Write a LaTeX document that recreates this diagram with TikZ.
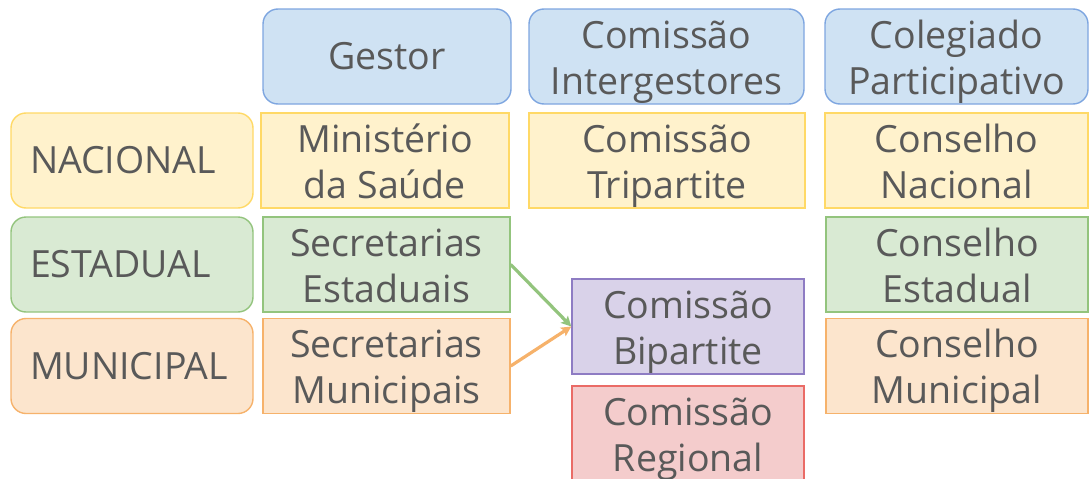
\documentclass[tikz,border=0pt]{standalone}
\usepackage{fontspec}
\setmainfont{Open Sans}
\usepackage{tikz}
\usetikzlibrary{arrows.meta}
\definecolor{texto}{HTML}{595959}
\definecolor{azulF}{HTML}{CFE2F3}
\definecolor{azulB}{HTML}{7EA6E0}
\definecolor{amareloF}{HTML}{FFF2CC}
\definecolor{amareloB}{HTML}{FFD966}
\definecolor{verdeF}{HTML}{D9EAD3}
\definecolor{verdeB}{HTML}{93C47D}
\definecolor{laranjaF}{HTML}{FCE5CD}
\definecolor{laranjaB}{HTML}{F6B26B}
\definecolor{roxoF}{HTML}{D9D2E9}
\definecolor{roxoB}{HTML}{8E7CC3}
\definecolor{vermelhoF}{HTML}{F4CCCC}
\definecolor{vermelhoB}{HTML}{EA6B66}
\tikzset{
  caixa/.style={draw,line width=1.4pt,minimum height=95pt,inner sep=0pt,align=center,
    text=texto,font=\fontsize{37.5}{46}\selectfont},
  duas/.style={caixa,text height=75pt,text depth=0pt},
  cabec/.style={rounded corners=15pt,fill=azulF,draw=azulB},
  nivel/.style={caixa,rounded corners=15pt,text width=204pt,align=left,inner xsep=19pt},
  nac/.style={fill=amareloF,draw=amareloB},
  est/.style={fill=verdeF,draw=verdeB},
  mun/.style={fill=laranjaF,draw=laranjaB},
  seta/.style={line width=3.2pt,-{Stealth[length=10pt,width=10pt,inset=2pt]}}
}

\begin{document}
\begin{tikzpicture}[x=1pt,y=-1pt]
    \useasboundingbox (0,0) rectangle (1090,479);
    \clip (0,0) rectangle (1090,479);
    % cabecalho
    \node (gestor) at (387,56.5) [caixa,cabec,minimum width=248pt]{Gestor};
    \node (intergest) at (666.5,56.5) [duas,cabec,minimum width=275pt]{Comissão\\Intergestores};
    \node (colegiado) at (956.5,56.5) [duas,cabec,minimum width=263pt]{Colegiado\\Participativo};
    %% niveis
    \node (nacional) at (132,160.5) [nivel,nac]{NACIONAL};
    \node (estadual) at (132,264.5) [nivel,est]{ESTADUAL};
    \node (municipal) at (132,366) [nivel,mun]{MUNICIPAL};
    % gestores
    \node (ministerio) at (385,160.5) [duas,nac,minimum width=248pt]{Ministério\\da Saúde};
    \node (secest) at (386.5,264.5) [duas,est,minimum width=247pt]{Secretarias\\Estaduais};
    \node (secmun) at (386.5,366) [duas,mun,minimum width=247pt]{Secretarias\\Municipais};
    % comissoes
    \node (tripartite) at (667,160.5) [duas,nac,minimum width=276pt]{Comissão\\Tripartite};
    \node (bipartite) at (688,326.5) [duas,fill=roxoF,draw=roxoB,minimum width=232pt]{Comissão\\Bipartite};
    \node (regional) at (688,433.5) [duas,fill=vermelhoF,draw=vermelhoB,minimum width=232pt]{Comissão\\Regional};
    % conselhos
    \node (cnacional) at (956.5,160.5) [duas,nac,minimum width=263pt]{Conselho\\Nacional};
    \node (cestadual) at (957,264.5) [duas,est,minimum width=262pt]{Conselho\\Estadual};
    \node (cmunicipal) at (957,366) [duas,mun,minimum width=262pt]{Conselho\\Municipal};
    % setas
    \draw[seta,verdeB] (secest.east) -- (bipartite.west);
    \draw[seta,laranjaB] (secmun.east) -- (bipartite.west);
\end{tikzpicture}
\end{document}
